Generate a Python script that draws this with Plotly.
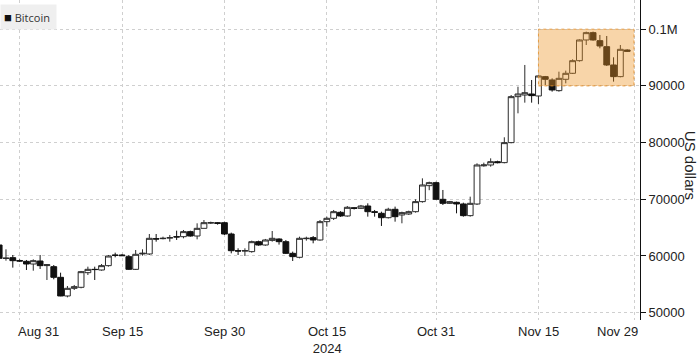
import pandas as pd
import plotly.graph_objects as go

dates = pd.date_range("2024-08-28", "2024-11-28", freq="D")

opens = [61930, 59550, 59700, 59200, 59050, 58580, 59110, 58300, 58110, 56230,
         52940, 54290, 54470, 57050, 57640, 57520, 58290, 60170, 60170, 59875,
         57640, 60350, 60350, 63050, 63050, 63150, 63400, 63400, 64290, 63520,
         64870, 65800, 65870, 65870, 63870, 60930, 60870, 60760, 62520, 61930,
         62750, 62990, 62520, 60460, 59760, 63050, 63230, 62815, 66050, 66640,
         67700, 67050, 68500, 68400, 68810, 67810, 67520, 66750, 68230, 67230,
         67400, 67810, 69580, 72400, 72930, 69990, 69280, 69460, 69170, 67110,
         69165, 75900, 76050, 76630, 76460, 79990, 88100, 88390, 88570, 88220,
         91630, 91040, 89160, 91160, 92220, 94450, 98100, 99390, 97980, 96920,
         93690, 91630, 96330]
highs = [62000, 61170, 60170, 59400, 59290, 59400, 60170, 58580, 58400, 57050,
         54700, 54880, 57350, 58110, 58110, 58580, 60170, 60580, 60350, 60170,
         61050, 61170, 63870, 63870, 63400, 63700, 64460, 64580, 64460, 65760,
         66340, 66050, 65990, 66050, 64110, 61350, 61350, 62700, 62700, 63000,
         64400, 63110, 62810, 60760, 63400, 63400, 63520, 66340, 66930, 68110,
         67900, 68810, 68600, 69000, 69280, 68110, 67810, 68500, 68700, 67810,
         67990, 69990, 73690, 73100, 73100, 71640, 69700, 69580, 69400, 70460,
         76340, 76460, 77220, 76800, 80930, 88390, 89860, 93690, 91040, 91920,
         91750, 91330, 92510, 92690, 94690, 98210, 99570, 99570, 98980, 98800,
         95040, 97210, 96450]
lows = [59400, 59170, 57940, 58930, 57520, 57400, 57700, 55760, 55880, 52900,
        52700, 54000, 54290, 56640, 55760, 57400, 58110, 59760, 59990, 57520,
        57520, 60050, 60170, 62520, 62930, 62520, 62820, 63110, 63400, 62930,
        64870, 65640, 65520, 63700, 60460, 60170, 59990, 60580, 61800, 61800,
        62520, 62000, 60340, 59110, 59580, 62700, 62230, 62700, 65170, 66340,
        66900, 66930, 68200, 68300, 66930, 66930, 65290, 66600, 66050, 65760,
        67230, 67640, 69400, 71600, 69870, 68990, 69200, 67520, 66930, 66930,
        68990, 75750, 75750, 76340, 76340, 79870, 85160, 87040, 87040, 86810,
        90160, 88980, 88980, 90450, 92100, 94270, 97210, 97980, 96630, 93510,
        90750, 91510, 96000]
closes = [59580, 59620, 59170, 59100, 58580, 59170, 58290, 58450, 56230, 52940,
          54290, 54580, 57230, 57640, 57600, 58290, 59990, 60100, 60050, 57640,
          60290, 60470, 63110, 62990, 63110, 63230, 63350, 64290, 63520, 64870,
          65870, 65870, 65750, 63870, 60930, 60870, 60930, 62520, 61930, 62815,
          63110, 62520, 60460, 59880, 63110, 63110, 62815, 66050, 66640, 67810,
          67050, 68580, 68400, 68810, 67810, 67700, 66750, 68230, 66930, 67640,
          67810, 69580, 72520, 72930, 69990, 69280, 69580, 69170, 67110, 69280,
          76050, 76050, 76630, 76460, 79990, 88100, 88570, 88800, 88280, 91750,
          91160, 89280, 91330, 92220, 94450, 98100, 99390, 98100, 97040, 93690,
          91630, 96450, 96100]

x_tickvals = ["2024-08-31", "2024-09-15", "2024-09-30", "2024-10-15",
              "2024-10-31", "2024-11-15", "2024-11-29"]
x_ticktext = ["Aug 31", "Sep 15", "Sep 30", "Oct 15<br>2024",
              "Oct 31", "Nov 15", "Nov 29"]
y_tickvals = [50000, 60000, 70000, 80000, 90000, 100000]
y_ticktext = ["50000", "60000", "70000", "80000", "90000", "0.1M"]

highlight_x = ["2024-11-15", "2024-11-29"]
highlight_y = [90000, 100000]

fig = go.Figure()
fig.add_trace(go.Candlestick(
    x=dates, open=opens, high=highs, low=lows, close=closes,
    name="Bitcoin",
    increasing=dict(line=dict(color="#2a2a2a", width=1), fillcolor="white"),
    decreasing=dict(line=dict(color="#111111", width=1), fillcolor="#111111"),
    whiskerwidth=0,
    showlegend=False,
    hoverinfo="skip",
))

fig.add_shape(type="rect", xref="x", yref="y",
              x0=highlight_x[0], x1=highlight_x[1],
              y0=highlight_y[0], y1=highlight_y[1],
              fillcolor="rgba(237,150,40,0.4)",
              line=dict(color="rgba(225,140,40,0.85)", width=1, dash="dot"),
              layer="above")

# x tick labels (edge labels nudged inward, as in the reference)
n = len(x_tickvals)
for i, (tv, tt) in enumerate(zip(x_tickvals, x_ticktext)):
    if i == 0:
        anchor, shift = "left", -4
    elif i == n - 1:
        anchor, shift = "right", 6
    else:
        anchor, shift = "center", 0
    fig.add_annotation(xref="x", yref="paper", x=tv, y=0, xanchor=anchor,
                       yanchor="top", xshift=shift, yshift=-2, text=tt,
                       showarrow=False, align="center",
                       font=dict(family="Liberation Sans, Arial, sans-serif",
                                 size=13, color="#222"))

fig.add_annotation(xref="paper", yref="paper", x=0, y=1, xanchor="left", yanchor="top",
                   yshift=-4,
                   text="<span style='color:#111;font-size:13px'>■</span> Bitcoin&nbsp;",
                   showarrow=False, bgcolor="#efefef", borderpad=3,
                   font=dict(family="Open Sans, sans-serif", size=11, color="#333"))

fig.add_annotation(xref="paper", yref="paper", x=1, y=0.485, xshift=50,
                   xanchor="center", yanchor="middle", text="US dollars",
                   textangle=90, showarrow=False,
                   font=dict(family="Liberation Sans, Arial, sans-serif", size=15, color="#222"))

fig.update_layout(
    width=700, height=355,
    margin=dict(l=0, r=60, t=0, b=35),
    plot_bgcolor="white", paper_bgcolor="white",
    boxgap=0.15, boxgroupgap=0,
    showlegend=False,
    font=dict(family="Liberation Sans, Arial, sans-serif", size=13, color="#222"),
    xaxis=dict(
        type="date",
        range=["2024-08-28 03:00", "2024-11-29 21:00"],
        tickmode="array", tickvals=x_tickvals, showticklabels=False,
        showgrid=True, gridcolor="#cfcfcf", griddash="dot", gridwidth=1,
        showline=False, zeroline=False, ticks="",
        rangeslider=dict(visible=False),
        fixedrange=True,
    ),
    yaxis=dict(
        side="right",
        range=[48702, 105150],
        tickmode="array", tickvals=y_tickvals, ticktext=y_ticktext,
        showgrid=True, gridcolor="#cfcfcf", griddash="dot", gridwidth=1,
        showline=True, linecolor="#111", linewidth=1,
        ticks="outside", ticklen=5, tickcolor="#111",
        zeroline=False,
    ),
)

fig.write_html("out.html")
